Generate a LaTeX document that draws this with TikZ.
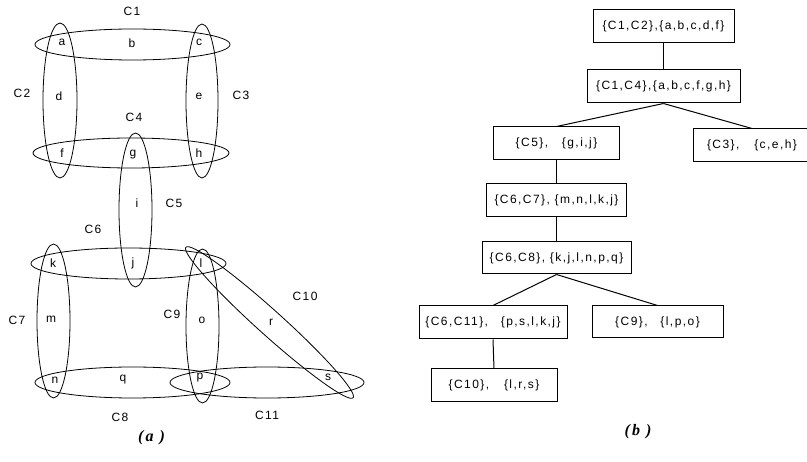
\documentclass[tikz,border=0pt]{standalone}
\usepackage{fontspec}
\setmainfont{Liberation Sans}
\newfontfamily\spfont[LetterSpace=12]{Liberation Sans}
\newfontfamily\capfont{Liberation Serif}
\begin{document}
\begin{tikzpicture}[x=1pt,y=-1pt,
  lbl/.style={font=\spfont\fontsize{12}{14}\selectfont, inner sep=0pt},
  hyper/.style={draw=black, line width=0.8pt},
  tbox/.style={draw, line width=1pt, font=\spfont\fontsize{12}{14}\selectfont, minimum height=33pt, inner sep=0pt},
  tedge/.style={line width=1pt},
  captxt/.style={font=\capfont\bfseries\itshape\fontsize{16}{19}\selectfont, inner sep=0pt}]
\clip (0,0) rectangle (807,462);
% hyperedges (ellipses)
\draw[hyper] (132.5,44.5) ellipse [x radius=97.5, y radius=15.5];   % C1
\draw[hyper] (60,100.5) ellipse [x radius=17, y radius=77.5];       % C2
\draw[hyper] (202,101) ellipse [x radius=16, y radius=77];          % C3
\draw[hyper] (131,153) ellipse [x radius=98, y radius=15];          % C4
\draw[hyper] (135.5,210) ellipse [x radius=16.5, y radius=77];      % C5
\draw[hyper] (128.5,263.5) ellipse [x radius=97.5, y radius=15.5];  % C6
\draw[hyper] (53.5,321) ellipse [x radius=16.5, y radius=77];       % C7
\draw[hyper] (132.5,382.5) ellipse [x radius=97.5, y radius=15.5];  % C8
\draw[hyper] (202.5,326) ellipse [x radius=16.5, y radius=77];      % C9
\draw[hyper, rotate around={-42:(269.5,322.5)}] (269.5,322.5) ellipse [x radius=112.5, y radius=12.5]; % C10
\draw[hyper] (267,382.5) ellipse [x radius=97, y radius=15.5];      % C11
% hyperedge labels
\node[lbl] (C1) at (132,11) {C1};
\node[lbl] (C2) at (22,93) {C2};
\node[lbl] (C3) at (241,95) {C3};
\node[lbl] (C4) at (134,117) {C4};
\node[lbl] (C5) at (174,203) {C5};
\node[lbl] (C6) at (93,229) {C6};
\node[lbl] (C7) at (17,320) {C7};
\node[lbl] (C8) at (120,417) {C8};
\node[lbl] (C9) at (172,314) {C9};
\node[lbl] (C10) at (305,296) {C10};
\node[lbl] (C11) at (267,415) {C11};
% vertices
\node[lbl] (va) at (62,42) {a};
\node[lbl] (vb) at (132,43) {b};
\node[lbl] (vc) at (199,42) {c};
\node[lbl] (vd) at (59,96) {d};
\node[lbl] (ve) at (199,96) {e};
\node[lbl] (vf) at (62,153) {f};
\node[lbl] (vg) at (133,155) {g};
\node[lbl] (vh) at (199,153) {h};
\node[lbl] (vi) at (137,203) {i};
\node[lbl] (vj) at (133,263) {j};
\node[lbl] (vk) at (53,263) {k};
\node[lbl] (vl) at (201,263) {l};
\node[lbl] (vm) at (51,319) {m};
\node[lbl] (vn) at (55,380) {n};
\node[lbl] (vo) at (202,320) {o};
\node[lbl] (vp) at (200,378) {p};
\node[lbl] (vq) at (123,380) {q};
\node[lbl] (vr) at (271,322) {r};
\node[lbl] (vs) at (328,377) {s};
\node[captxt] (capa) at (151.5,438) {(\hspace{2pt}a\hspace{6pt})};
% tree
\node[tbox, minimum width=141pt] (n1) at (663.5,26.5) {\{C1,C2\},\{a,b,c,d,f\}};
\node[tbox, minimum width=153pt] (n2) at (663.5,86.5) {\{C1,C4\},\{a,b,c,f,g,h\}};
\node[tbox, minimum width=126pt] (n3) at (556.5,143.5) {\{C5\},\hspace{9pt} \{g,i,j\}};
\node[tbox, minimum width=118pt] (n4) at (752,145.5) {\{C3\},\hspace{10pt} \{c,e,h\}};
\node[tbox, minimum width=140pt] (n5) at (556.5,200.5) {\{C6,C7\}, \{m,n,l,k,j\}};
\node[tbox, minimum width=149pt, minimum height=32pt] (n6) at (556.5,258) {\{C6,C8\}, \{k,j,l,n,p,q\}};
\node[tbox, minimum width=148pt] (n7) at (493,322.5) {\{C6,C11\},\hspace{8pt} \{p,s,l,k,j\}};
\node[tbox, minimum width=131pt, minimum height=32pt] (n8) at (657.5,322) {\{C9\},\hspace{8pt} \{l,p,o\}};
\node[tbox, minimum width=126pt] (n9) at (494,385.5) {\{C10\},\hspace{10pt} \{l,r,s\}};
\draw[tedge] (n1.south) -- (n2.north);
\draw[tedge] (n2.south) -- (n3.north);
\draw[tedge] (n2.south) -- (n4.north);
\draw[tedge] (n3.south) -- (n5.north);
\draw[tedge] (n5.south) -- (n6.north);
\draw[tedge] (n6.south) -- (n7.north);
\draw[tedge] (n6.south) -- (n8.north);
\draw[tedge] (n7.south) -- (n9.north);
\node[captxt] (capb) at (638,432) {(\hspace{2pt}b\hspace{6pt})};
\end{tikzpicture}
\end{document}
